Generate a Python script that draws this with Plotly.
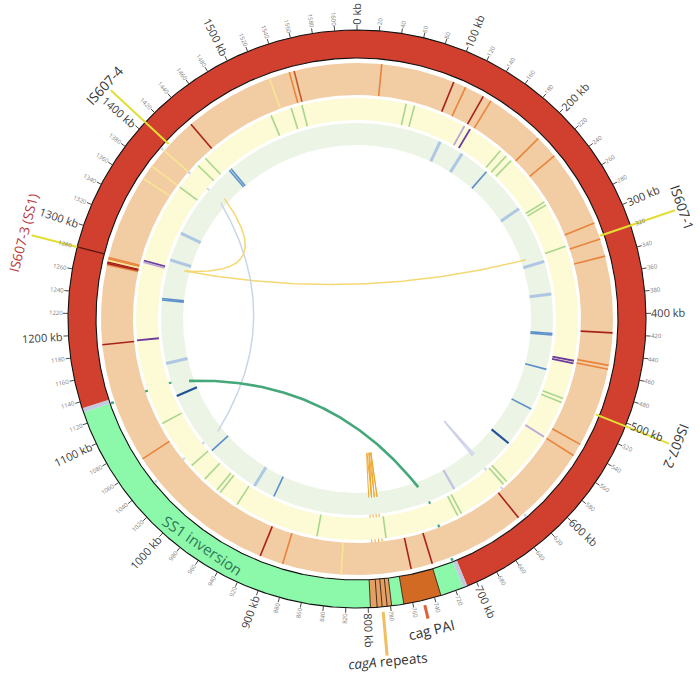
import numpy as np
import plotly.graph_objects as go

# ---------------- data ----------------
GENOME_KB = 1620

# karyotype (outer ring) segments, kb
kar_start = [0, 709, 713, 734, 768, 779, 798, 1130, 1134]
kar_end = [709, 713, 734, 768, 779, 798, 1130, 1134, 1620]
kar_kind = ["chrom", "junction", "inv", "cagPAI", "inv", "cagA", "inv", "junction", "chrom"]
cagA_repeat_edges = [779, 783, 787.5, 792, 798]
cagPAI_edges = [734, 768]

# track 1 (peach) features
peach_kb = [25, 100, 113, 133, 142, 203, 227, 306, 323, 341, 419, 452, 456, 537, 550, 634,
            733, 755, 826, 886, 910, 1066, 1189, 1270, 1271.5, 1273, 1274.5, 1276, 1277.5,
            1365, 1380, 1400, 1438, 1530, 1551, 1556]
peach_kind = ["o", "r", "o", "r", "o", "o", "o", "o", "o", "o", "r", "o", "o", "o", "o", "r",
              "r", "r", "y", "o", "r", "o", "r", "o", "r", "r", "y", "o", "o",
              "y", "y", "y", "r", "y", "o", "b"]

# track 2 (yellow) features
yellow_kb = [58, 68, 131, 138.5, 182, 191, 199, 261, 265, 318.6, 454, 457, 500, 505, 550, 618,
             623, 683, 688, 776, 857, 958, 982, 987, 1006, 1028, 1088, 1190, 1282, 1284, 1380,
             1413, 1425, 1517, 1542, 1555]
yellow_kind = ["g", "g", "l", "p", "g", "g", "g", "g", "g", "g", "p", "p", "g", "g", "l", "g",
               "g", "g", "g", "g", "g", "g", "g", "g", "g", "g", "g", "p", "l", "p", "g",
               "g", "g", "g", "g", "g"]

# track 3 (green) features
green_kb = [113, 146, 186, 251, 328, 372, 424, 426, 472, 528, 582, 676, 923, 952, 1025, 1111,
            1156, 1240, 1242, 1294, 1332, 1437, 1440]
green_kind = ["lb", "lb", "mb", "lb", "lb", "lb", "mb", "mb", "mb", "mb", "db", "lv", "mb", "lb",
              "mb", "db", "lb", "mb", "mb", "lb", "lb", "mb", "mb"]

# links
link_from = [1405, 1285, 1397, 1124, 626, 781, 781, 785, 789]
link_to = [1285, 318, 1040, 720, 629, 785, 789, 789, 793]
link_kind = ["is", "is", "blue", "teal", "lav", "cag", "cag", "cag", "cag"]
# track-gap highlight marks at link ends
mark_kb = [1400, 1040, 1130, 713, 627.5]
mark_kind = ["blue", "blue", "teal", "teal", "lav"]
cag_mark_kb = [781, 785, 789, 793]

# IS607 elements
is_names = ["IS607-1", "IS607-2", "IS607-3 (SS1)", "IS607-4"]
is_kb = [320, 503, 1280, 1408]

cag_pai_mark_kb = 750
cagA_mark_kb = 787

tick_kb = list(range(0, GENOME_KB, 20))
major_label_kb = list(range(0, 1600, 100))

# ---------------- style ----------------
CX, CY = 357, 319
R_KAR_OUT, R_KAR_IN = 289, 261
TRACKS = {"peach": (224, 256), "yellow": (199, 221), "green": (174, 196)}
GAP_R = [258.5, 222.5, 197.5]
R_LINK = 179
FONT = "Open Sans, DejaVu Sans, sans-serif"

KAR_COLOR = {"chrom": "#d1402f", "junction": "#c3cae0", "inv": "#8cf8aa",
             "cagPAI": "#d26a24", "cagA": "#e4a064"}
BG_COLOR = {"peach": "#f2cca3", "yellow": "#fdfad6", "green": "#ebf4e5"}
PEACH_C = {"o": "#e8843c", "r": "#a8211d", "y": "#f8e396", "b": "#c0582a"}
YELLOW_C = {"g": "#a8d68e", "p": "#6b3b9c", "l": "#b9a6d6"}
GREEN_C = {"lb": "#aec8e4", "mb": "#5a8fcb", "db": "#214f9a", "lv": "#c3c4e2"}
FEAT_W = {"o": 1.6, "r": 1.6, "y": 1.8, "b": 1.6, "g": 1.6, "p": 1.8, "l": 1.8,
          "lb": 3.0, "mb": 1.6, "db": 2.2, "lv": 2.4}
LINK_C = {"is": "#f4d873", "blue": "#c9d6e6", "teal": "#44a87a", "lav": "#cdd1ea", "cag": "#f0a830"}
LINK_W = {"is": 1.5, "blue": 1.5, "teal": 2.6, "lav": 1.5, "cag": 1.0}
LINK_K = {"is": 0.5, "blue": 0.5, "teal": 0.5, "lav": 0.5, "cag": 0.5}
LINK_K_OVERRIDE = {1: 0.3}
IS_COLOR = "#e2de34"


def pol(kb, r):
    th = np.deg2rad(np.asarray(kb, dtype=float) / GENOME_KB * 360.0)
    return r * np.sin(th), r * np.cos(th)


def wedge(a, b, r0, r1):
    n = max(int(abs(b - a) / 1.5) + 2, 3)
    t = np.linspace(a, b, n)
    xo, yo = pol(t, r1)
    xi, yi = pol(t[::-1], r0)
    return np.r_[xo, xi, xo[:1]], np.r_[yo, yi, yo[:1]]


def radial(kbs, r0, r1):
    xs, ys = [], []
    for k in kbs:
        x0, y0 = pol(k, r0)
        x1, y1 = pol(k, r1)
        xs += [float(x0), float(x1), None]
        ys += [float(y0), float(y1), None]
    return xs, ys


fig = go.Figure()


def add_fill(x, y, color):
    fig.add_trace(go.Scatter(x=x, y=y, mode="lines", fill="toself", fillcolor=color,
                             line=dict(width=0, color=color), hoverinfo="skip"))


def add_lines(x, y, color, width):
    fig.add_trace(go.Scatter(x=x, y=y, mode="lines", line=dict(color=color, width=width),
                             hoverinfo="skip", connectgaps=False))


# track backgrounds
for name, (r0, r1) in TRACKS.items():
    x, y = wedge(0, GENOME_KB, r0, r1)
    add_fill(x, y, BG_COLOR[name])

# karyotype
for a, b, k in zip(kar_start, kar_end, kar_kind):
    x, y = wedge(a, b, R_KAR_IN, R_KAR_OUT)
    add_fill(x, y, KAR_COLOR[k])
x, y = radial(cagA_repeat_edges + cagPAI_edges, R_KAR_IN, R_KAR_OUT)
add_lines(x, y, "#3a2010", 0.9)
for r in (R_KAR_OUT, R_KAR_IN):
    t = np.linspace(0, GENOME_KB, 900)
    cx_, cy_ = pol(t, r)
    add_lines(cx_, cy_, "#111111", 1.1)

# ticks
x, y = radial(tick_kb, R_KAR_OUT, R_KAR_OUT + 5)
add_lines(x, y, "#333333", 0.9)

# track features
for kbs, kinds, cmap, key in ((peach_kb, peach_kind, PEACH_C, "peach"),
                              (yellow_kb, yellow_kind, YELLOW_C, "yellow"),
                              (green_kb, green_kind, GREEN_C, "green")):
    r0, r1 = TRACKS[key]
    for kind in cmap:
        sel = [k for k, kk in zip(kbs, kinds) if kk == kind]
        if sel:
            x, y = radial(sel, r0, r1)
            add_lines(x, y, cmap[kind], FEAT_W[kind])

# gap markers at link ends
for e, kind in zip(mark_kb, mark_kind):
    for gr in GAP_R:
        x, y = wedge(e - 1.3, e + 1.3, gr - 1.4, gr + 1.4)
        add_fill(x, y, LINK_C[kind])
for gr in GAP_R[1:]:
    x, y = radial(cag_mark_kb, gr - 1.6, gr + 1.6)
    add_lines(x, y, LINK_C["cag"], 1.0)

# links (quadratic bezier, control point toward centre)
tt = np.linspace(0, 1, 120)[:, None]
for i, (a, b, kind) in enumerate(zip(link_from, link_to, link_kind)):
    p0 = np.array(pol(a, R_LINK))
    p2 = np.array(pol(b, R_LINK))
    k = LINK_K_OVERRIDE.get(i, LINK_K[kind])
    p1 = k * (p0 + p2) / 2
    pts = (1 - tt) ** 2 * p0 + 2 * tt * (1 - tt) * p1 + tt ** 2 * p2
    add_lines(pts[:, 0], pts[:, 1], LINK_C[kind], LINK_W[kind])

# IS607 markers
for name, kb in zip(is_names, is_kb):
    if "SS1" in name:
        x, y = radial([kb], R_KAR_IN, R_KAR_OUT)
        add_lines(x, y, "#5a1410", 1.3)
        x, y = radial([kb], R_KAR_OUT, 336)
        add_lines(x, y, IS_COLOR, 2.0)
    else:
        x, y = radial([kb], 257, 336)
        add_lines(x, y, IS_COLOR, 2.0)

# cag markers
x, y = radial([cag_pai_mark_kb], 294, 308)
add_lines(x, y, "#e0603a", 3)
x, y = radial([cagA_mark_kb], 294, 338)
add_lines(x, y, "#f0c060", 3)

# ---------------- annotations ----------------
ann = []


def est_w(text, size):
    w = 0
    for ch in text:
        if ch.isdigit():
            w += 0.57
        elif ch == " ":
            w += 0.27
        else:
            w += 0.56
    return w * size


def ang_of(kb):
    return kb / GENOME_KB * 360.0


for kb in tick_kb:
    th = ang_of(kb)
    major = kb in major_label_kb
    text = f"{kb} kb" if major else str(kb)
    size = 11 if major else 6
    rc = R_KAR_OUT + 5.5 + est_w(text, size) / 2
    x, y = pol(kb, rc)
    ta = th - 90 if th < 180 else th - 270
    ann.append(dict(x=float(x), y=float(y), xref="x", yref="y", text=text, textangle=ta,
                    showarrow=False, xanchor="center", yanchor="middle", borderpad=0,
                    font=dict(family=FONT, size=size, color="#3c3c3c" if major else "#808080")))

for name, kb in zip(is_names, is_kb):
    th = ang_of(kb)
    x, y = pol(kb, 344)
    ta = th if th < 180 else th - 360
    ann.append(dict(x=float(x), y=float(y), xref="x", yref="y", text=name, textangle=ta,
                    showarrow=False, xanchor="center", yanchor="middle", borderpad=0,
                    font=dict(family=FONT, size=13.5,
                              color="#b83a3a" if "SS1" in name else "#333333")))

inv_mid = 965
x, y = pol(inv_mid, 274)
ann.append(dict(x=float(x), y=float(y), xref="x", yref="y", text="SS1 inversion",
                textangle=ang_of(inv_mid) - 180, showarrow=False, xanchor="center",
                yanchor="middle", font=dict(family=FONT, size=15, color="#2e7a58")))

x, y = pol(cag_pai_mark_kb - 1, 319)
ann.append(dict(x=float(x), y=float(y), xref="x", yref="y", text="cag PAI",
                textangle=ang_of(cag_pai_mark_kb - 1) - 180, showarrow=False,
                xanchor="center", yanchor="middle", font=dict(family=FONT, size=14, color="#333333")))

x, y = pol(cagA_mark_kb, 343)
ann.append(dict(x=float(x), y=float(y), xref="x", yref="y", text="<i>cagA</i> repeats",
                textangle=ang_of(cagA_mark_kb) - 180, showarrow=False, borderpad=0,
                xanchor="center", yanchor="middle", font=dict(family=FONT, size=13.5, color="#333333")))

fig.update_layout(
    width=700, height=675,
    margin=dict(l=0, r=0, t=0, b=0),
    paper_bgcolor="white", plot_bgcolor="white",
    showlegend=False,
    xaxis=dict(range=[-CX, 700 - CX], visible=False, fixedrange=True),
    yaxis=dict(range=[-(675 - CY), CY], visible=False, fixedrange=True),
    annotations=ann,
)

fig.write_html("out.html", config={"displayModeBar": False},
               post_script="document.body.style.margin='0px';document.body.style.overflow='hidden';")
